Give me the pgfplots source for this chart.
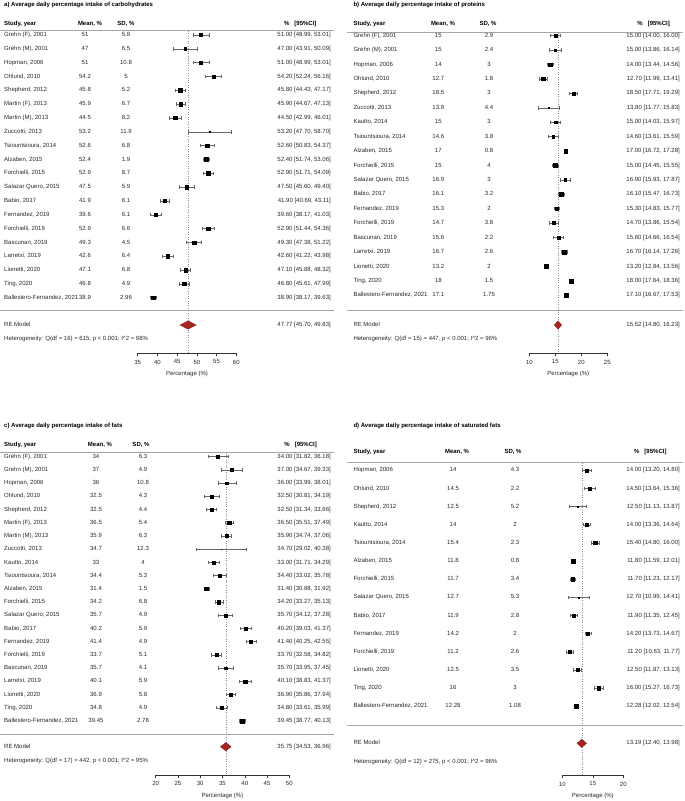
\documentclass[border=0pt]{standalone}
\usepackage{fontspec}
\setmainfont{Liberation Sans}
\usepackage{pgfplots}
\usepackage{pgfplotstable}
\pgfplotsset{compat=1.18}
\newcommand\fs{\fontsize{6}{7}\selectfont}
\definecolor{dia}{RGB}{165,38,32}
\definecolor{txt}{RGB}{40,40,40}

\tikzset{
  sep/.style={black!35, line width=0.8pt},
  hd/.style={font=\fs\bfseries, inner sep=0pt, text height=4.4pt, text depth=1.2pt, anchor=#1},
  tx/.style={font=\fs, inner sep=0pt, text height=4.4pt, text depth=1.2pt, anchor=#1, text=txt},
}
\pgfplotsset{
  forest/.style={scale only axis, clip=false, axis x line*=bottom, axis y line=none,
    ytick=\empty, xtick align=outside, major tick length=3pt,
    x axis line style={-, black!80, line width=0.5pt},
    tick style={black!80, line width=0.5pt},
    tick label style={font=\fs, text=txt},
    /pgf/number format/assume math mode=true,
    xlabel={Percentage (\%)},
    every axis x label/.style={at={(axis description cs:0.5,0)}, anchor=center, yshift=-21pt, font=\fs, text=txt},
    anchor=south west},
  col/.style={draw=none, mark=none, nodes near coords, point meta=explicit symbolic,
    every node near coord/.append style={font=\fs, inner sep=0pt, text height=4.4pt, text depth=1.2pt, anchor=#1, text=txt}},
  cil/.style={draw=none, mark=none, forget plot,
    error bars/x dir=both, error bars/x explicit,
    error bars/error mark=|,
    error bars/error bar style={draw=black!60, line width=0.45pt},
    error bars/error mark options={draw=black!60, mark size=1.7pt, line width=0.45pt}},
  est/.style={only marks, mark=square*, scatter, scatter/use mapped color={draw=black, fill=black},
    visualization depends on={\thisrow{ms}\as\ms},
    scatter/@pre marker code/.append style={/tikz/mark size=0.85*\ms, /tikz/line width=0.3pt}},
  vref/.style={black!45, dotted, line width=0.45pt},
  diam/.style={fill=dia, draw=dia!80!black, line width=0.3pt},
}

\pgfplotstableread[col sep=semicolon]{
name;mean;sd;lo;hi;ci;ms
Grehn (F), 2001;51;5.8;48.99;53.01;51.00 [48.99, 53.01];1.8
Grehn (M), 2001;47;6.5;43.91;50.09;47.00 [43.91, 50.09];1.4
Hopman, 2006;51;10.8;48.99;53.01;51.00 [48.99, 53.01];1.8
Ohlund, 2010;54.2;5;52.24;56.16;54.20 [52.24, 56.16];1.9
Shepherd, 2012;45.8;5.2;44.43;47.17;45.80 [44.43, 47.17];2.0
Martin (F), 2013;45.9;6.7;44.67;47.13;45.90 [44.67, 47.13];2.0
Martin (M), 2013;44.5;8.2;42.99;46.01;44.50 [42.99, 46.01];2.0
Zuccotti, 2013;53.2;11.9;47.70;58.70;53.20 [47.70, 58.70];0.5
Tsiountsioura, 2014;52.6;6.8;50.83;54.37;52.60 [50.83, 54.37];1.9
Alzaben, 2015;52.4;1.9;51.74;53.06;52.40 [51.74, 53.06];2.3
Forchielli, 2015;52.9;8.7;51.71;54.09;52.90 [51.71, 54.09];2.1
Salazar Quero, 2015;47.5;5.9;45.60;49.40;47.50 [45.60, 49.40];1.9
Babio, 2017;41.9;6.1;40.69;43.11;41.90 [40.69, 43.11];2.0
Fernandez, 2019;39.6;6.1;38.17;41.03;39.60 [38.17, 41.03];2.0
Forchielli, 2019;52.9;6.6;51.44;54.36;52.90 [51.44, 54.36];2.0
Bascunan, 2019;49.3;4.5;47.38;51.22;49.30 [47.38, 51.22];1.9
Larretxi, 2019;42.6;6.4;41.22;43.98;42.60 [41.22, 43.98];2.0
Lionetti, 2020;47.1;6.8;45.88;48.32;47.10 [45.88, 48.32];2.0
Ting, 2020;46.8;4.9;45.61;47.99;46.80 [45.61, 47.99];2.0
Ballestero-Fernandez, 2021;38.9;2.96;38.17;39.63;38.90 [38.17, 39.63];2.2
}\tabA

\pgfplotstableread[col sep=semicolon]{
name;mean;sd;lo;hi;ci;ms
Grehn (F), 2001;15;2.9;14.00;16.00;15.00 [14.00, 16.00];1.7
Grehn (M), 2001;15;2.4;13.86;16.14;15.00 [13.86, 16.14];1.6
Hopman, 2006;14;3;13.44;14.56;14.00 [13.44, 14.56];2.1
Ohlund, 2010;12.7;1.8;11.99;13.41;12.70 [11.99, 13.41];2.0
Shepherd, 2012;18.5;3;17.71;19.29;18.50 [17.71, 19.29];1.9
Zuccotti, 2013;13.8;4.4;11.77;15.83;13.80 [11.77, 15.83];0.6
Kautto, 2014;15;3;14.03;15.97;15.00 [14.03, 15.97];1.7
Tsiountsioura, 2014;14.6;3.8;13.61;15.59;14.60 [13.61, 15.59];1.7
Alzaben, 2015;17;0.8;16.72;17.28;17.00 [16.72, 17.28];2.2
Forchielli, 2015;15;4;14.45;15.55;15.00 [14.45, 15.55];2.1
Salazar Quero, 2015;16.9;3;15.93;17.87;16.90 [15.93, 17.87];1.7
Babio, 2017;16.1;3.2;15.47;16.73;16.10 [15.47, 16.73];2.0
Fernandez, 2019;15.3;2;14.83;15.77;15.30 [14.83, 15.77];2.1
Forchielli, 2019;14.7;3.8;13.86;15.54;14.70 [13.86, 15.54];1.8
Bascunan, 2019;15.6;2.2;14.66;16.54;15.60 [14.66, 16.54];1.7
Larretxi, 2019;16.7;2.6;16.14;17.26;16.70 [16.14, 17.26];2.1
Lionetti, 2020;13.2;2;12.84;13.56;13.20 [12.84, 13.56];2.2
Ting, 2020;18;1.5;17.64;18.36;18.00 [17.64, 18.36];2.2
Ballestero-Fernandez, 2021;17.1;1.75;16.67;17.53;17.10 [16.67, 17.53];2.1
}\tabB

\pgfplotstableread[col sep=semicolon]{
name;mean;sd;lo;hi;ci;ms
Grehn (F), 2001;34;6.3;31.82;36.18;34.00 [31.82, 36.18];1.6
Grehn (M), 2001;37;4.9;34.67;39.33;37.00 [34.67, 39.33];1.6
Hopman, 2006;36;10.8;33.99;38.01;36.00 [33.99, 38.01];1.6
Ohlund, 2010;32.5;4.3;30.81;34.19;32.50 [30.81, 34.19];1.7
Shepherd, 2012;32.5;4.4;31.34;33.66;32.50 [31.34, 33.66];1.9
Martin (F), 2013;36.5;5.4;35.51;37.49;36.50 [35.51, 37.49];2.0
Martin (M), 2013;35.9;6.3;34.74;37.06;35.90 [34.74, 37.06];1.9
Zuccotti, 2013;34.7;12.3;29.02;40.38;34.70 [29.02, 40.38];0.5
Kautto, 2014;33;4;31.71;34.29;33.00 [31.71, 34.29];1.9
Tsiountsioura, 2014;34.4;5.3;33.02;35.78;34.40 [33.02, 35.78];1.8
Alzaben, 2015;31.4;1.5;30.88;31.92;31.40 [30.88, 31.92];2.1
Forchielli, 2015;34.2;6.8;33.27;35.13;34.20 [33.27, 35.13];2.0
Salazar Quero, 2015;35.7;4.9;34.12;37.28;35.70 [34.12, 37.28];1.7
Babio, 2017;40.2;5.9;39.03;41.37;40.20 [39.03, 41.37];1.9
Fernandez, 2019;41.4;4.9;40.25;42.55;41.40 [40.25, 42.55];1.9
Forchielli, 2019;33.7;5.1;32.58;34.82;33.70 [32.58, 34.82];1.9
Bascunan, 2019;35.7;4.1;33.95;37.45;35.70 [33.95, 37.45];1.7
Larretxi, 2019;40.1;5.9;38.83;41.37;40.10 [38.83, 41.37];1.9
Lionetti, 2020;36.9;5.8;35.86;37.94;36.90 [35.86, 37.94];2.0
Ting, 2020;34.8;4.9;33.61;35.99;34.80 [33.61, 35.99];1.9
Ballestero-Fernandez, 2021;39.45;2.78;38.77;40.13;39.45 [38.77, 40.13];2.1
}\tabC

\pgfplotstableread[col sep=semicolon]{
name;mean;sd;lo;hi;ci;ms
Hopman, 2006;14;4.3;13.20;14.80;14.00 [13.20, 14.80];1.7
Ohlund, 2010;14.5;2.2;13.64;15.36;14.50 [13.64, 15.36];1.7
Shepherd, 2012;12.5;5.2;11.13;13.87;12.50 [11.13, 13.87];1.0
Kautto, 2014;14;2;13.36;14.64;14.00 [13.36, 14.64];1.8
Tsiountsioura, 2014;15.4;2.3;14.80;16.00;15.40 [14.80, 16.00];1.9
Alzaben, 2015;11.8;0.8;11.59;12.01;11.80 [11.59, 12.01];2.1
Forchielli, 2015;11.7;3.4;11.23;12.17;11.70 [11.23, 12.17];2.0
Salazar Quero, 2015;12.7;5.3;10.99;14.41;12.70 [10.99, 14.41];0.5
Babio, 2017;11.9;2.8;11.35;12.45;11.90 [11.35, 12.45];2.0
Fernandez, 2019;14.2;2;13.73;14.67;14.20 [13.73, 14.67];2.0
Forchielli, 2019;11.2;2.6;10.63;11.77;11.20 [10.63, 11.77];2.0
Lionetti, 2020;12.5;3.5;11.87;13.13;12.50 [11.87, 13.13];1.9
Ting, 2020;16;3;15.27;16.73;16.00 [15.27, 16.73];1.9
Ballestero-Fernandez, 2021;12.28;1.08;12.02;12.54;12.28 [12.02, 12.54];2.0
}\tabD

\begin{document}
\begin{tikzpicture}
\useasboundingbox (0pt,0pt) rectangle (685pt,-801pt);

% ---------------- a) carbohydrates  (px -> x: 35+(px-137.7)/3.944)
\begin{axis}[forest, at={(137.7pt,-353.3pt)}, x=3.944pt, y=1pt,
  xmin=35, xmax=60, ymin=-353.3, ymax=0, xtick={35,40,...,60}]
 \node[hd=west] at (axis cs:1.100,-4.5) {a) Average daily percentage intake of carbohydrates};
 \node[hd=west] at (axis cs:1.100,-24) {Study, year};
 \node[hd=center] at (axis cs:22.906,-24) {Mean, \%};
 \node[hd=center] at (axis cs:32.033,-24) {SD, \%};
 \node[hd=east] at (axis cs:80.385,-24) {\%\hspace{5pt}[95\%CI]};
 \draw[sep] (axis cs:0.086,-30.7) -- (axis cs:84.772,-30.7);
 \draw[sep] (axis cs:0.086,-310.7) -- (axis cs:84.772,-310.7);
 \addplot[vref] coordinates {(47.77,-31) (47.77,-353.3)};
 \addplot[col=west] table[x expr=1.100, y expr=-(35+\coordindex*13.83), meta=name]{\tabA};
 \addplot[col=center] table[x expr=21.638, y expr=-(35+\coordindex*13.83), meta=mean]{\tabA};
 \addplot[col=center] table[x expr=32.033, y expr=-(35+\coordindex*13.83), meta=sd]{\tabA};
 \addplot[col=east] table[x expr=84.011, y expr=-(35+\coordindex*13.83), meta=ci]{\tabA};
 \addplot[cil] table[x=mean, y expr=-(35+\coordindex*13.83),
   x error plus expr=\thisrow{hi}-\thisrow{mean}, x error minus expr=\thisrow{mean}-\thisrow{lo}]{\tabA};
 \addplot[est] table[x=mean, y expr=-(35+\coordindex*13.83)]{\tabA};
 \addplot[diam] coordinates {(45.70,-325) (47.77,-320.8) (49.83,-325) (47.77,-329.2)} -- cycle;
 \node[tx=west] at (axis cs:1.100,-325) {RE Model};
 \node[tx=east] at (axis cs:84.011,-325) {47.77 [45.70, 49.83]};
 \node[tx=west] at (axis cs:1.100,-338.7) {Heterogeneity: Q(df = 16) = 615, p < 0.001; I\textasciicircum 2 = 98\%};
\end{axis}

% ---------------- b) proteins  (px -> x: 10+(px-529.3)/5.2)
\begin{axis}[forest, at={(529.3pt,-353.3pt)}, x=5.2pt, y=1pt,
  xmin=10, xmax=25, ymin=-353.3, ymax=0, xtick={10,15,20,25}]
 \node[hd=west] at (axis cs:-23.846,-4.5) {b) Average daily percentage intake of proteins};
 \node[hd=west] at (axis cs:-23.846,-24) {Study, year};
 \node[hd=center] at (axis cs:-6.596,-24) {Mean, \%};
 \node[hd=center] at (axis cs:2.058,-24) {SD, \%};
 \node[hd=east] at (axis cs:37.058,-24) {\%\hspace{5pt}[95\%CI]};
 \draw[sep] (axis cs:-25.058,-32.3) -- (axis cs:39.558,-32.3);
 \draw[sep] (axis cs:-25.058,-310) -- (axis cs:39.558,-310);
 \addplot[vref] coordinates {(15.52,-32.5) (15.52,-353.3)};
 \addplot[col=west] table[x expr=-23.846, y expr=-(35.7+\coordindex*14.42), meta=name]{\tabB};
 \addplot[col=center] table[x expr=-7.5, y expr=-(35.7+\coordindex*14.42), meta=mean]{\tabB};
 \addplot[col=center] table[x expr=2.25, y expr=-(35.7+\coordindex*14.42), meta=sd]{\tabB};
 \addplot[col=east] table[x expr=38.981, y expr=-(35.7+\coordindex*14.42), meta=ci]{\tabB};
 \addplot[cil] table[x=mean, y expr=-(35.7+\coordindex*14.42),
   x error plus expr=\thisrow{hi}-\thisrow{mean}, x error minus expr=\thisrow{mean}-\thisrow{lo}]{\tabB};
 \addplot[est] table[x=mean, y expr=-(35.7+\coordindex*14.42)]{\tabB};
 \addplot[diam] coordinates {(14.80,-325) (15.52,-320.8) (16.23,-325) (15.52,-329.2)} -- cycle;
 \node[tx=west] at (axis cs:-23.846,-325) {RE Model};
 \node[tx=east] at (axis cs:38.981,-325) {15.52 [14.80, 16.23]};
 \node[tx=west] at (axis cs:-23.846,-338.7) {Heterogeneity: Q(df = 15) = 447, p < 0.001; I\textasciicircum 2 = 96\%};
\end{axis}

% ---------------- c) fats  (px -> x: 20+(px-155.7)/4.453)
\begin{axis}[forest, at={(155.7pt,-775pt)}, x=4.453pt, y=1pt,
  xmin=20, xmax=50, ymin=-775, ymax=-410, xtick={20,25,...,50}]
 \node[hd=west] at (axis cs:-14.067,-425.7) {c) Average daily percentage intake of fats};
 \node[hd=west] at (axis cs:-14.067,-445) {Study, year};
 \node[hd=center] at (axis cs:7.492,-445) {Mean, \%};
 \node[hd=center] at (axis cs:16.699,-445) {SD, \%};
 \node[hd=east] at (axis cs:56.223,-445) {\%\hspace{5pt}[95\%CI]};
 \draw[sep] (axis cs:-14.965,-452) -- (axis cs:60.040,-452);
 \draw[sep] (axis cs:-14.965,-734.3) -- (axis cs:60.040,-734.3);
 \addplot[vref] coordinates {(35.75,-452.5) (35.75,-775)};
 \addplot[col=west] table[x expr=-14.067, y expr=-(456.7+\coordindex*13.215), meta=name]{\tabC};
 \addplot[col=center] table[x expr=6.593, y expr=-(456.7+\coordindex*13.215), meta=mean]{\tabC};
 \addplot[col=center] table[x expr=17.148, y expr=-(456.7+\coordindex*13.215), meta=sd]{\tabC};
 \addplot[col=east] table[x expr=59.367, y expr=-(456.7+\coordindex*13.215), meta=ci]{\tabC};
 \addplot[cil] table[x=mean, y expr=-(456.7+\coordindex*13.215),
   x error plus expr=\thisrow{hi}-\thisrow{mean}, x error minus expr=\thisrow{mean}-\thisrow{lo}]{\tabC};
 \addplot[est] table[x=mean, y expr=-(456.7+\coordindex*13.215)]{\tabC};
 \addplot[diam] coordinates {(34.53,-746.7) (35.75,-742.5) (36.96,-746.7) (35.75,-750.9)} -- cycle;
 \node[tx=west] at (axis cs:-14.067,-746.7) {RE Model};
 \node[tx=east] at (axis cs:59.367,-746.7) {35.75 [34.53, 36.96]};
 \node[tx=west] at (axis cs:-14.067,-761) {Heterogeneity: Q(df = 17) = 442, p < 0.001; I\textasciicircum 2 = 95\%};
\end{axis}

% ---------------- d) saturated fats  (px -> x: 10+(px-562.3)/6.1)
\begin{axis}[forest, at={(562.3pt,-775.3pt)}, x=6.1pt, y=1pt,
  xmin=10, xmax=20, ymin=-775.3, ymax=-410, xtick={10,15,20}]
 \node[hd=west] at (axis cs:-24.262,-425.7) {d) Average daily percentage intake of saturated fats};
 \node[hd=west] at (axis cs:-24.262,-452.3) {Study, year};
 \node[hd=center] at (axis cs:-7.262,-452.3) {Mean, \%};
 \node[hd=center] at (axis cs:1.918,-452.3) {SD, \%};
 \node[hd=east] at (axis cs:27.115,-452.3) {\%\hspace{5pt}[95\%CI]};
 \draw[sep] (axis cs:-25.295,-462.7) -- (axis cs:29.787,-462.7);
 \draw[sep] (axis cs:-25.295,-725) -- (axis cs:29.787,-725);
 \addplot[vref] coordinates {(13.19,-463) (13.19,-775.3)};
 \addplot[col=west] table[x expr=-24.262, y expr=-(470.3+\coordindex*18.15), meta=name]{\tabD};
 \addplot[col=center] table[x expr=-7.918, y expr=-(470.3+\coordindex*18.15), meta=mean]{\tabD};
 \addplot[col=center] table[x expr=2.246, y expr=-(470.3+\coordindex*18.15), meta=sd]{\tabD};
 \addplot[col=east] table[x expr=29.295, y expr=-(470.3+\coordindex*18.15), meta=ci]{\tabD};
 \addplot[cil] table[x=mean, y expr=-(470.3+\coordindex*18.15),
   x error plus expr=\thisrow{hi}-\thisrow{mean}, x error minus expr=\thisrow{mean}-\thisrow{lo}]{\tabD};
 \addplot[est] table[x=mean, y expr=-(470.3+\coordindex*18.15)]{\tabD};
 \addplot[diam] coordinates {(12.40,-743.3) (13.19,-739.1) (13.98,-743.3) (13.19,-747.5)} -- cycle;
 \node[tx=west] at (axis cs:-24.262,-743.3) {RE Model};
 \node[tx=east] at (axis cs:29.295,-743.3) {13.19 [12.40, 13.98]};
 \node[tx=west] at (axis cs:-24.262,-761.7) {Heterogeneity: Q(df = 12) = 275, p < 0.001; I\textasciicircum 2 = 96\%};
\end{axis}
\end{tikzpicture}
\end{document}
